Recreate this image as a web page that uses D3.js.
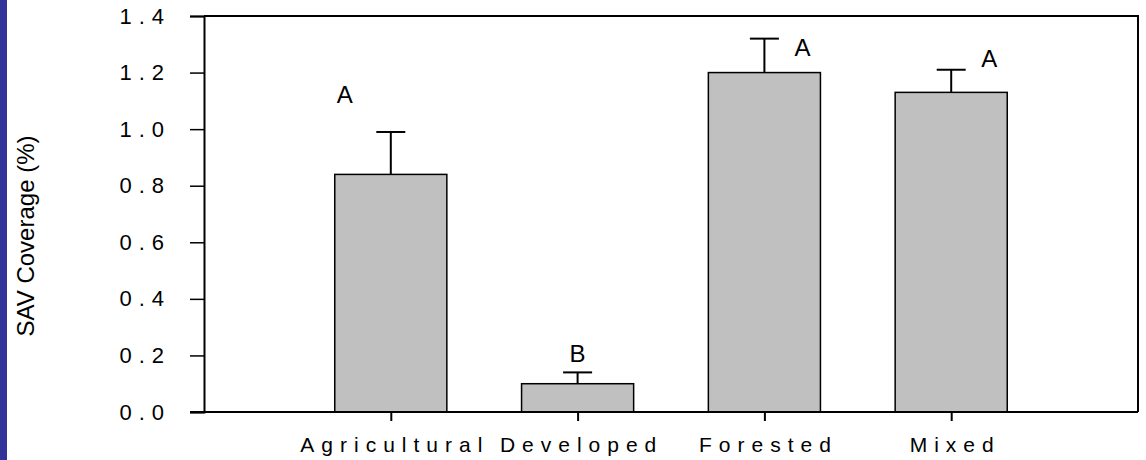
<!DOCTYPE html>
<html>
<head>
<meta charset="utf-8">
<script src="https://cdn.jsdelivr.net/npm/d3@7"></script>
<style>
  body { margin: 0; background: #fff; }
  text { font-family: 'Liberation Sans', Arial, sans-serif; fill: #000; }
</style>
</head>
<body>
<div id="wrapper"></div>
<script>
// data
const categories = ['Agricultural', 'Developed', 'Forested', 'Mixed']
const means = [0.84, 0.10, 1.20, 1.13]
const errors = [0.15, 0.04, 0.12, 0.08]
const groupLetters = ['A', 'B', 'A', 'A']
const yTicks = [0, 0.2, 0.4, 0.6, 0.8, 1.0, 1.2, 1.4]

function drawBars() {
  const dimensions = {
    width: 1146,
    height: 460,
    margin: { top: 16, right: 8, bottom: 48, left: 204 }
  }
  dimensions.boundedWidth = dimensions.width - dimensions.margin.left - dimensions.margin.right
  dimensions.boundedHeight = dimensions.height - dimensions.margin.top - dimensions.margin.bottom

  const wrapper = d3.select('#wrapper')
    .append('svg')
      .attr('width', dimensions.width)
      .attr('height', dimensions.height)

  // blue strip on left edge
  wrapper.append('rect')
    .attr('x', 0).attr('y', 0)
    .attr('width', 7).attr('height', dimensions.height)
    .attr('fill', '#333399')

  const bounds = wrapper.append('g')
    .attr('transform', `translate(${dimensions.margin.left},${dimensions.margin.top})`)

  // scales: 5 slots, bars sit at positions 1..4
  const xScale = d3.scaleLinear()
    .domain([0, categories.length + 1])
    .range([0, dimensions.boundedWidth])

  const yScale = d3.scaleLinear()
    .domain([0, 1.4])
    .range([dimensions.boundedHeight, 0])

  const slot = xScale(1) - xScale(0)
  const barWidth = slot * 0.6
  const capWidth = 29

  const data = categories.map((c, i) => ({
    category: c, pos: i + 1, mean: means[i], err: errors[i], letter: groupLetters[i]
  }))

  // error bars (drawn first so bar top covers stem base)
  bounds.selectAll('.err')
    .data(data)
    .join('line')
      .attr('class', 'err')
      .attr('x1', d => xScale(d.pos))
      .attr('x2', d => xScale(d.pos))
      .attr('y1', d => yScale(d.mean))
      .attr('y2', d => yScale(d.mean + d.err))
      .attr('stroke', '#000')
      .attr('stroke-width', 2)

  bounds.selectAll('.cap')
    .data(data)
    .join('line')
      .attr('class', 'cap')
      .attr('x1', d => xScale(d.pos) - capWidth / 2)
      .attr('x2', d => xScale(d.pos) + capWidth / 2)
      .attr('y1', d => yScale(d.mean + d.err))
      .attr('y2', d => yScale(d.mean + d.err))
      .attr('stroke', '#000')
      .attr('stroke-width', 2)

  // bars
  bounds.selectAll('.bar')
    .data(data)
    .join('rect')
      .attr('class', 'bar')
      .attr('x', d => xScale(d.pos) - barWidth / 2)
      .attr('y', d => yScale(d.mean))
      .attr('width', barWidth)
      .attr('height', d => yScale(0) - yScale(d.mean))
      .attr('fill', '#c0c0c0')
      .attr('stroke', '#000')
      .attr('stroke-width', 1.5)

  // significance letters, offsets from error bar top
  const letterOffsets = [[-46, -29], [0, -10], [38, 17], [38, -3]]
  bounds.selectAll('.letter')
    .data(data)
    .join('text')
      .attr('class', 'letter')
      .attr('x', (d, i) => xScale(d.pos) + letterOffsets[i][0])
      .attr('y', (d, i) => yScale(d.mean + d.err) + letterOffsets[i][1])
      .attr('text-anchor', 'middle')
      .style('font-size', '24px')
      .text(d => d.letter)

  // frame
  bounds.append('path')
    .attr('d', `M0,0H${dimensions.boundedWidth}V${dimensions.boundedHeight}`)
    .attr('fill', 'none')
    .attr('stroke', '#000')
    .attr('stroke-width', 2)

  // y axis
  const yAxisGenerator = d3.axisLeft(yScale)
    .tickValues(yTicks)
    .tickSize(14)
    .tickPadding(19)
    .tickFormat(d3.format('.1f'))

  const yAxis = bounds.append('g')
    .call(yAxisGenerator)
  yAxis.select('.domain').attr('stroke-width', 2)
  yAxis.selectAll('.tick line').attr('stroke-width', 1.5)
  yAxis.selectAll('.tick text')
    .style('font-size', '22px')
    .style('letter-spacing', '7px')
    .attr('font-family', null)

  // x axis
  const xAxisGenerator = d3.axisBottom(xScale)
    .tickValues(data.map(d => d.pos))
    .tickFormat((d, i) => categories[i])
    .tickSizeInner(9)
    .tickSizeOuter(0)
    .tickPadding(16)

  const xAxis = bounds.append('g')
    .attr('transform', `translate(0,${dimensions.boundedHeight})`)
    .call(xAxisGenerator)
  xAxis.select('.domain').attr('stroke-width', 2)
    .attr('d', `M-14,0H${dimensions.boundedWidth}`)
  xAxis.selectAll('.tick line').attr('stroke-width', 2)
  xAxis.selectAll('.tick text')
    .style('font-size', '21px')
    .style('letter-spacing', '7px')
    .attr('dx', '3.5')
    .attr('font-family', null)

  // y axis label
  wrapper.append('text')
    .attr('transform', 'translate(34,236) rotate(-90)')
    .attr('text-anchor', 'middle')
    .style('font-size', '24px')
    .text('SAV Coverage (%)')
}

drawBars()
</script>
</body>
</html>
